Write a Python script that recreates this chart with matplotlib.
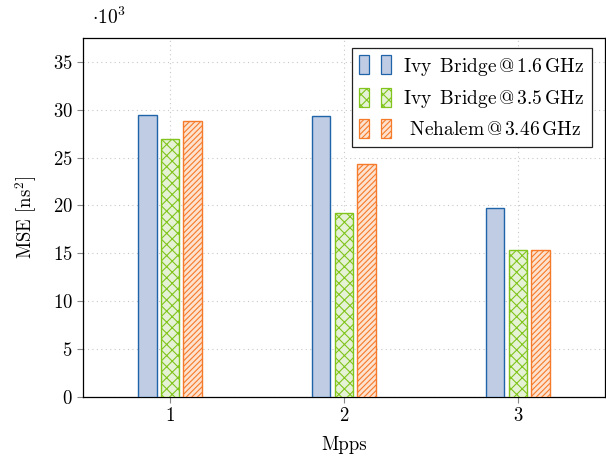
import matplotlib
matplotlib.use("Agg")
import matplotlib.pyplot as plt
import matplotlib.patches as mpatches
from matplotlib.legend_handler import HandlerBase
import numpy as np

plt.rcParams["font.family"] = "serif"
plt.rcParams["font.serif"] = ["cmr10", "DejaVu Serif"]
plt.rcParams["mathtext.fontset"] = "cm"
plt.rcParams["axes.formatter.use_mathtext"] = True
plt.rcParams["hatch.linewidth"] = 0.8

# ── data (values in units of 10^3 ns^2) ────────────────────────────────────
mpps = [1, 2, 3]
series = ["Ivy$\\,$ Bridge$\\,$@$\\,$1.6$\\,$GHz",
          "Ivy$\\,$ Bridge$\\,$@$\\,$3.5$\\,$GHz",
          " Nehalem$\\,$@$\\,$3.46$\\,$GHz"]
ivy_16 = [29.4, 29.3, 19.7]
ivy_35 = [26.9, 19.2, 15.3]
nehalem = [28.8, 24.3, 15.3]

# ── styles ─────────────────────────────────────────────────────────────────
STYLE = [
    dict(facecolor="#bfcce3", edgecolor="#1f64a8", hatch=None),
    dict(facecolor="#e6f2d6", edgecolor="#80c41c", hatch="xxx"),
    dict(facecolor="#fde2cf", edgecolor="#f57a2a", hatch="//////"),
]
FS = 13.5


class TwinBarHandler(HandlerBase):
    """pgfplots-style legend entry: two small bars."""

    def __init__(self, style):
        super().__init__()
        self.style = style

    def create_artists(self, legend, orig_handle, xdescent, ydescent,
                       width, height, fontsize, trans):
        h = height * 1.4
        y0 = -ydescent - 0.2 * height
        w = width * 0.26
        arts = []
        for x0 in (0.0, width * 0.55):
            r = mpatches.Rectangle((x0, y0), w, h, transform=trans,
                                   facecolor=self.style["facecolor"],
                                   edgecolor=self.style["edgecolor"],
                                   hatch=self.style["hatch"], linewidth=0.9)
            arts.append(r)
        return arts


fig = plt.figure(figsize=(6.06, 4.62), dpi=100)
ax = fig.add_axes([0.137, 0.141, 0.861, 0.777])

x = np.array(mpps, dtype=float)
offsets = [-0.13, 0.0, 0.13]
handles = []
for vals, off, st, lab in zip([ivy_16, ivy_35, nehalem], offsets, STYLE, series):
    b = ax.bar(x + off, vals, width=0.105, facecolor=st["facecolor"],
               edgecolor=st["edgecolor"], hatch=st["hatch"], linewidth=1.0,
               label=lab, zorder=3)
    handles.append(b)

ax.set_xlim(0.5, 3.5)
ax.set_ylim(0, 37.5)
ax.set_xticks(mpps)
ax.set_yticks(np.arange(0, 36, 5))
ax.grid(True, color="#c8c8c8", linestyle=(0, (1, 3)), linewidth=0.8, zorder=0)
ax.tick_params(axis="both", direction="out", length=4, color="#888888",
               labelsize=FS)
for sp in ax.spines.values():
    sp.set_linewidth(0.9)

ax.set_xlabel("Mpps", fontsize=FS, labelpad=8)
ax.set_ylabel("MSE [ns$^2$]", fontsize=FS, labelpad=10)
fig.text(0.152, 0.962, "$\\cdot10^3$", fontsize=14, ha="left", va="center")

leg = ax.legend(handles=handles, labels=series, loc="upper right",
                fontsize=14, fancybox=False, framealpha=1, edgecolor="#222222",
                handlelength=2.0, handletextpad=0.25, borderpad=0.4,
                labelspacing=0.55, borderaxespad=0,
                bbox_to_anchor=(0.975, 0.972),
                handler_map={h: TwinBarHandler(st) for h, st in zip(handles, STYLE)})
leg.get_frame().set_linewidth(0.9)

fig.savefig("out.png", dpi=100)
